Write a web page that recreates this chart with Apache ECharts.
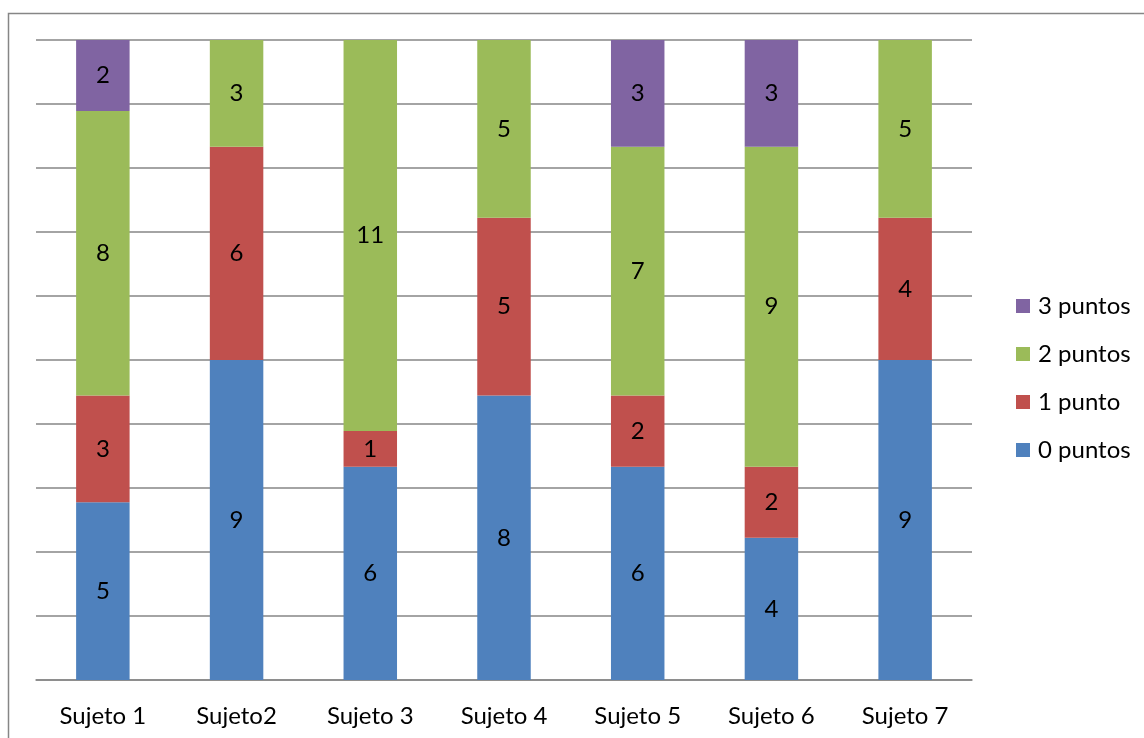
<!DOCTYPE html>
<html>
<head>
<meta charset="utf-8">
<script src="https://cdn.jsdelivr.net/npm/echarts@6/dist/echarts.min.js"></script>
<style>html,body{margin:0;padding:0;background:#fff}#c{width:1144px;height:738px}</style>
</head>
<body>
<div id="c"></div>
<script>
const categories = ['Sujeto 1','Sujeto2','Sujeto 3','Sujeto 4','Sujeto 5','Sujeto 6','Sujeto 7'];
const puntos0 = [5, 9, 6, 8, 6, 4, 9];
const puntos1 = [3, 6, 1, 5, 2, 2, 4];
const puntos2 = [8, 3, 11, 5, 7, 9, 5];
const puntos3 = [2, null, null, null, 3, 3, null];
const seriesNames = ['0 puntos','1 punto','2 puntos','3 puntos'];
const colors = ['#4F81BD','#C0504D','#9BBB59','#8064A2'];

const font = 'Lato, "Open Sans", sans-serif';
const chart = echarts.init(document.getElementById('c'), null, {renderer:'canvas'});
const mk = (name, data, color) => ({
  name, type:'bar', stack:'t', data, barWidth:'40%',
  itemStyle:{color},
  label:{show:true, position:'inside', color:'#000', fontSize:24, fontFamily:font,
    formatter: p => (p.value ? p.value : '')}
});
chart.setOption({
  animation:false,
  graphic:[{type:'rect', left:6, top:11, shape:{width:1200, height:800}, style:{fill:'none', stroke:'#868686', lineWidth:1.5}, silent:true}],
  grid:{left:36, right:172, top:40, bottom:58},
  legend:{
    data:['3 puntos','2 puntos','1 punto','0 puntos'],
    orient:'vertical', left:1016, top:294, padding:0, itemWidth:14, itemHeight:14, itemGap:24,
    icon:'rect', textStyle:{fontSize:24, lineHeight:24, fontFamily:font, color:'#000', padding:[0,0,0,3]}
  },
  xAxis:{type:'category', data:categories,
    axisLine:{lineStyle:{color:'#868686', width:1.5}},
    axisTick:{length:8, lineStyle:{color:'#868686', width:1.5}},
    axisLabel:{fontSize:24, fontFamily:font, color:'#000', margin:24}},
  yAxis:{type:'value', min:0, max:18, interval:1.8,
    axisLine:{show:false}, axisTick:{show:false}, axisLabel:{show:false},
    splitLine:{lineStyle:{color:'#868686', width:1.5}}},
  series:[
    mk(seriesNames[0], puntos0, colors[0]),
    mk(seriesNames[1], puntos1, colors[1]),
    mk(seriesNames[2], puntos2, colors[2]),
    mk(seriesNames[3], puntos3, colors[3])
  ]
});
</script>
</body>
</html>
